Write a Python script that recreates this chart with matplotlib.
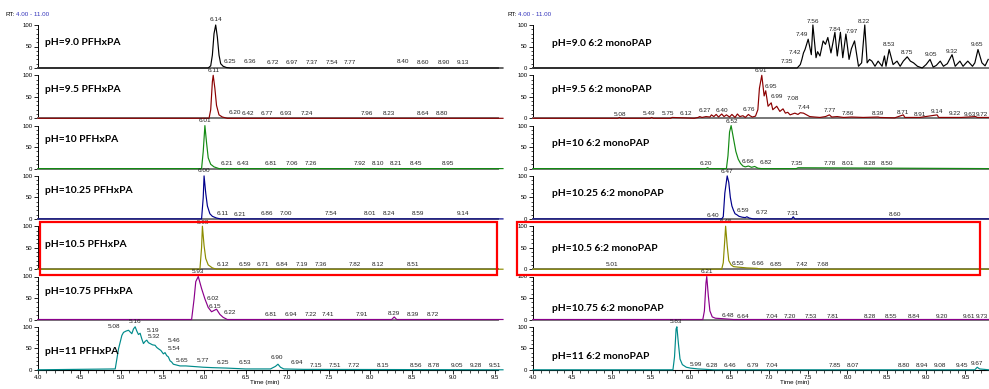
import matplotlib
matplotlib.use("Agg")
import matplotlib.pyplot as plt
from matplotlib.patches import Rectangle
from matplotlib.ticker import MultipleLocator, FormatStrFormatter

W, H = 989, 389

# ---- data (time in min, relative abundance %) ----
colors = ['#000000', '#8b0000', '#138a13', '#00008b', '#8c8c00', '#8b008b', '#008b8b']

left_names = ['pH=9.0 PFHxPA', 'pH=9.5 PFHxPA', 'pH=10 PFHxPA', 'pH=10.25 PFHxPA',
              'pH=10.5 PFHxPA', 'pH=10.75 PFHxPA', 'pH=11 PFHxPA']
right_names = ['pH=9.0 6:2 monoPAP', 'pH=9.5 6:2 monoPAP', 'pH=10 6:2 monoPAP',
               'pH=10.25 6:2 monoPAP', 'pH=10.5 6:2 monoPAP', 'pH=10.75 6:2 monoPAP',
               'pH=11 6:2 monoPAP']

L1_t = [4.0, 6.05, 6.08, 6.10, 6.12, 6.14, 6.16, 6.18, 6.20, 6.23, 6.27, 6.32, 9.6]
L1_y = [0, 0, 5, 30, 80, 100, 72, 30, 10, 4, 1, 0, 0]
L2_t = [4.0, 6.06, 6.08, 6.10, 6.11, 6.13, 6.15, 6.18, 6.22, 6.28, 9.6]
L2_y = [0, 0, 20, 85, 100, 70, 30, 8, 3, 0, 0]
L3_t = [4.0, 5.97, 5.99, 6.01, 6.03, 6.05, 6.08, 6.12, 6.18, 9.6]
L3_y = [0, 0, 40, 100, 60, 25, 10, 4, 0, 0]
L4_t = [4.0, 5.97, 5.99, 6.00, 6.02, 6.04, 6.07, 6.10, 6.15, 6.20, 9.6]
L4_y = [0, 0, 50, 100, 60, 30, 12, 6, 2, 0, 0]
L5_t = [4.0, 5.95, 5.97, 5.98, 6.00, 6.02, 6.05, 6.10, 6.15, 9.6]
L5_y = [0, 0, 50, 100, 55, 25, 10, 3, 0, 0]
L6_t = [4.0, 5.85, 5.88, 5.90, 5.93, 5.97, 6.01, 6.05, 6.09, 6.13, 6.15, 6.19, 6.23, 6.28,
        8.26, 8.29, 8.32, 9.6]
L6_y = [0, 0, 48, 88, 100, 72, 48, 28, 18, 22, 24, 12, 5, 0, 0, 6, 0, 0]
L7_t = [4.0, 4.93, 4.97, 5.01, 5.03, 5.06, 5.09, 5.11, 5.13, 5.15, 5.17, 5.19, 5.21, 5.23,
        5.25, 5.27, 5.29, 5.31, 5.33, 5.35, 5.38, 5.41, 5.43, 5.45, 5.48, 5.51, 5.53, 5.55,
        5.57, 5.59, 5.61, 5.63, 5.67, 5.71, 5.78, 5.85, 5.92, 5.99, 6.1, 6.27, 6.5, 6.8,
        6.86, 6.89, 6.92, 6.96, 7.2, 9.6]
L7_y = [0, 2, 49, 80, 87, 90, 92, 88, 84, 95, 100, 90, 82, 85, 72, 61, 66, 69, 63, 61, 58,
        57, 52, 49, 45, 37, 40, 33, 30, 21, 18, 13, 11, 9, 9, 8, 7, 6, 5, 4, 2, 2, 8, 13, 6,
        2, 1, 0]

R1_t = [4.0, 7.36, 7.40, 7.42, 7.44, 7.46, 7.50, 7.54, 7.56, 7.60, 7.62, 7.65, 7.69, 7.72,
        7.75, 7.79, 7.84, 7.87, 7.91, 7.94, 7.98, 8.02, 8.05, 8.09, 8.14, 8.18, 8.22, 8.25,
        8.28, 8.31, 8.35, 8.39, 8.44, 8.47, 8.49, 8.53, 8.58, 8.63, 8.67, 8.71, 8.76, 8.80,
        8.84, 8.89, 8.95, 9.00, 9.05, 9.09, 9.13, 9.18, 9.22, 9.27, 9.33, 9.37, 9.43, 9.47,
        9.53, 9.59, 9.62, 9.66, 9.71, 9.75, 9.79]
R1_y = [0, 0, 8, 20, 35, 43, 67, 31, 100, 24, 38, 28, 63, 55, 71, 35, 83, 28, 83, 24, 79,
        20, 45, 63, 4, 12, 100, 12, 20, 16, 4, 16, 4, 28, 4, 43, 8, 16, 4, 16, 26, 16, 12, 4,
        0, 8, 20, 2, 6, 16, 4, 10, 31, 4, 16, 4, 16, 4, 12, 43, 12, 5, 20]
R2_t = [4.0, 5.08, 5.10, 5.12, 5.49, 5.51, 5.53, 5.75, 5.77, 6.05, 6.10, 6.12, 6.15, 6.20,
        6.25, 6.27, 6.30, 6.33, 6.36, 6.40, 6.43, 6.46, 6.50, 6.53, 6.57, 6.60, 6.63, 6.67,
        6.70, 6.74, 6.76, 6.79, 6.83, 6.86, 6.88, 6.91, 6.94, 6.96, 6.99, 7.03, 7.05, 7.10,
        7.14, 7.18, 7.21, 7.24, 7.27, 7.30, 7.33, 7.37, 7.40, 7.44, 7.46, 7.52, 7.58, 7.65,
        7.72, 7.77, 7.80, 7.87, 7.95, 8.05, 8.2, 8.39, 8.41, 8.6, 8.71, 8.73, 8.92, 9.14,
        9.16, 9.3, 9.45, 9.63, 9.65, 9.8]
R2_y = [0, 0, 2, 0, 0, 2, 0, 0, 2, 0, 2, 4, 2, 4, 3, 8, 4, 9, 3, 10, 4, 8, 3, 9, 2, 10, 4,
        6, 2, 9, 6, 3, 5, 20, 70, 100, 52, 64, 28, 36, 20, 28, 16, 22, 12, 14, 8, 10, 12, 9,
        13, 12, 10, 4, 3, 2, 4, 8, 3, 4, 2, 3, 2, 3, 2, 1, 8, 2, 2, 8, 2, 2, 2, 4, 2, 2]
R3_t = [4.0, 6.20, 6.22, 6.24, 6.46, 6.48, 6.50, 6.52, 6.55, 6.58, 6.61, 6.64, 6.67, 6.70,
        6.74, 6.78, 6.82, 6.86, 6.90, 7.35, 7.37, 9.8]
R3_y = [0, 0, 2, 0, 0, 30, 85, 100, 70, 40, 22, 12, 6, 4, 6, 3, 5, 1, 0, 0, 2, 0]
R4_t = [4.0, 6.40, 6.42, 6.44, 6.47, 6.49, 6.51, 6.53, 6.55, 6.57, 6.59, 6.62, 6.66, 6.70,
        6.72, 6.75, 6.80, 7.29, 7.31, 7.33, 9.8]
R4_y = [0, 0, 5, 60, 100, 85, 50, 30, 20, 12, 10, 6, 4, 3, 5, 2, 0, 0, 5, 0, 0]
R5_t = [4.0, 6.40, 6.42, 6.44, 6.45, 6.47, 6.49, 6.52, 6.55, 6.60, 6.66, 6.72, 6.85, 6.90, 9.8]
R5_y = [0, 0, 15, 70, 100, 55, 20, 10, 6, 5, 4, 3, 2, 0, 0]
R6_t = [4.0, 6.16, 6.18, 6.20, 6.21, 6.23, 6.25, 6.28, 6.32, 6.40, 6.48, 6.55, 9.8]
R6_y = [0, 0, 20, 85, 100, 55, 20, 6, 3, 2, 1, 0, 0]
R7_t = [4.0, 5.78, 5.80, 5.82, 5.83, 5.85, 5.87, 5.90, 5.95, 6.00, 6.10, 6.30, 9.62, 9.65,
        9.68, 9.8]
R7_y = [0, 0, 30, 95, 100, 60, 25, 12, 6, 4, 2, 0, 0, 6, 2, 0]

left_traces = [(L1_t, L1_y), (L2_t, L2_y), (L3_t, L3_y), (L4_t, L4_y),
               (L5_t, L5_y), (L6_t, L6_y), (L7_t, L7_y)]
right_traces = [(R1_t, R1_y), (R2_t, R2_y), (R3_t, R3_y), (R4_t, R4_y),
                (R5_t, R5_y), (R6_t, R6_y), (R7_t, R7_y)]

# peak labels: (text, x placement, y placement)
left_peaks = [
    [('6.14', 6.14, 112), ('6.25', 6.31, 14), ('6.36', 6.55, 14), ('6.72', 6.83, 12),
     ('6.97', 7.06, 12), ('7.37', 7.30, 12), ('7.54', 7.54, 12), ('7.77', 7.76, 12),
     ('8.40', 8.40, 14), ('8.60', 8.64, 12), ('8.90', 8.89, 12), ('9.13', 9.12, 12)],
    [('6.11', 6.11, 112), ('6.20', 6.37, 14), ('6.42', 6.53, 12), ('6.77', 6.76, 12),
     ('6.93', 6.99, 12), ('7.24', 7.24, 12), ('7.96', 7.96, 12), ('8.23', 8.22, 12),
     ('8.64', 8.64, 12), ('8.80', 8.87, 12)],
    [('6.01', 6.01, 112), ('6.21', 6.27, 12), ('6.43', 6.47, 12), ('6.81', 6.81, 12),
     ('7.06', 7.06, 12), ('7.26', 7.29, 12), ('7.92', 7.87, 12), ('8.10', 8.10, 12),
     ('8.21', 8.31, 12), ('8.45', 8.55, 12), ('8.95', 8.94, 12)],
    [('6.00', 6.00, 112), ('6.11', 6.22, 12), ('6.21', 6.43, 10), ('6.86', 6.76, 12),
     ('7.00', 6.99, 12), ('7.54', 7.53, 12), ('8.01', 8.00, 12), ('8.24', 8.23, 12),
     ('8.59', 8.58, 12), ('9.14', 9.12, 12)],
    [('5.98', 5.98, 108), ('6.12', 6.23, 12), ('6.59', 6.49, 12), ('6.71', 6.71, 12),
     ('6.84', 6.94, 12), ('7.19', 7.18, 12), ('7.36', 7.41, 12), ('7.82', 7.82, 12),
     ('8.12', 8.10, 12), ('8.51', 8.52, 12)],
    [('5.93', 5.93, 112), ('6.02', 6.11, 50), ('6.15', 6.13, 31), ('6.22', 6.31, 17),
     ('6.81', 6.81, 12), ('6.94', 7.05, 12), ('7.22', 7.29, 12), ('7.41', 7.49, 12),
     ('7.91', 7.90, 12), ('8.29', 8.28, 14), ('8.39', 8.52, 12), ('8.72', 8.75, 12)],
    [('5.08', 4.92, 100), ('5.16', 5.17, 112), ('5.19', 5.38, 92), ('5.32', 5.40, 78),
     ('5.46', 5.64, 68), ('5.54', 5.64, 50), ('5.65', 5.74, 22), ('5.77', 5.98, 22),
     ('6.25', 6.23, 16), ('6.53', 6.49, 16), ('6.90', 6.88, 28), ('6.94', 7.12, 16),
     ('7.15', 7.35, 11), ('7.51', 7.58, 11), ('7.72', 7.80, 11), ('8.15', 8.16, 11),
     ('8.56', 8.55, 11), ('8.78', 8.77, 11), ('9.05', 9.05, 11), ('9.28', 9.27, 11),
     ('9.51', 9.50, 11)],
]
right_peaks = [
    [('7.35', 7.23, 14), ('7.42', 7.33, 35), ('7.49', 7.42, 78), ('7.56', 7.56, 108),
     ('7.84', 7.84, 90), ('7.97', 8.06, 85), ('8.22', 8.21, 108), ('8.53', 8.53, 55),
     ('8.75', 8.76, 36), ('9.05', 9.06, 31), ('9.32', 9.33, 39), ('9.65', 9.65, 55)],
    [('5.08', 5.11, 10), ('5.49', 5.48, 12), ('5.75', 5.72, 12), ('6.12', 5.95, 12),
     ('6.27', 6.18, 19), ('6.40', 6.40, 19), ('6.76', 6.74, 21), ('6.91', 6.90, 110),
     ('6.95', 7.03, 74), ('6.99', 7.10, 50), ('7.08', 7.31, 47), ('7.44', 7.44, 26),
     ('7.77', 7.77, 17), ('7.86', 8.00, 12), ('8.39', 8.39, 12), ('8.71', 8.71, 14),
     ('8.91', 8.92, 10), ('9.14', 9.14, 16), ('9.22', 9.37, 12), ('9.63', 9.56, 10),
     ('9.72', 9.71, 10)],
    [('6.20', 6.20, 12), ('6.52', 6.53, 110), ('6.66', 6.74, 16), ('6.82', 6.96, 14),
     ('7.35', 7.35, 12), ('7.78', 7.78, 12), ('8.01', 8.01, 12), ('8.28', 8.28, 12),
     ('8.50', 8.50, 12)],
    [('6.40', 6.29, 8), ('6.47', 6.47, 110), ('6.59', 6.67, 19), ('6.72', 6.91, 14),
     ('7.31', 7.31, 12), ('8.60', 8.61, 10)],
    [('6.45', 6.45, 110), ('5.01', 5.01, 12), ('6.55', 6.61, 14), ('6.66', 6.86, 14),
     ('6.85', 7.09, 10), ('7.42', 7.42, 10), ('7.68', 7.69, 10)],
    [('6.21', 6.21, 112), ('6.48', 6.48, 10), ('6.64', 6.67, 8), ('7.04', 7.04, 8),
     ('7.20', 7.27, 8), ('7.53', 7.53, 8), ('7.81', 7.82, 8), ('8.28', 8.28, 8),
     ('8.55', 8.55, 8), ('8.84', 8.85, 8), ('9.20', 9.20, 8), ('9.61', 9.55, 8),
     ('9.73', 9.71, 8)],
    [('5.83', 5.82, 112), ('5.99', 6.07, 12), ('6.28', 6.28, 10), ('6.46', 6.51, 10),
     ('6.79', 6.80, 10), ('7.04', 7.04, 10), ('7.85', 7.84, 10), ('8.07', 8.07, 10),
     ('8.80', 8.72, 10), ('8.94', 8.95, 10), ('9.08', 9.17, 10), ('9.45', 9.46, 10),
     ('9.67', 9.65, 14)],
]

left_name_y = [60, 67, 67, 67, 58, 65, 42]
right_name_y = [58, 67, 58, 58, 49, 25, 32]

# ---- layout ----
fig = plt.figure(figsize=(W / 100, H / 100), dpi=100)
sans = ['Liberation Sans', 'DejaVu Sans']
label_font = ['Lato', 'DejaVu Sans']


def fig_rect(x0, y0, x1, y1):
    return [x0 / W, 1 - y1 / H, (x1 - x0) / W, (y1 - y0) / H]


def draw_column(x0, x1, xmax, names, traces, peaks, name_x, name_y):
    for i in range(7):
        top = 25 + 50.3 * i
        ax = fig.add_axes(fig_rect(x0, top, x1, top + 43))
        t, y = traces[i]
        ax.plot(t, y, color=colors[i], lw=0.85, zorder=3, clip_on=False)
        ax.set_xlim(4.0, xmax)
        ax.set_ylim(0, 100)
        ax.spines['top'].set_visible(False)
        ax.spines['right'].set_visible(False)
        ax.spines['left'].set_linewidth(0.7)
        ax.yaxis.set_major_locator(MultipleLocator(50))
        ax.yaxis.set_minor_locator(MultipleLocator(10))
        ax.tick_params(axis='y', which='major', direction='out', length=3, width=0.6,
                       labelsize=4.3, pad=1)
        ax.tick_params(axis='y', which='minor', direction='out', length=1.8, width=0.5)
        for lab in ax.get_yticklabels():
            lab.set_family(sans)
        ax.patch.set_alpha(0)
        if i < 6:
            ax.spines['bottom'].set_color('#777777')
            ax.spines['bottom'].set_linewidth(1.4)
            ax.set_xticks([])
        else:
            ax.spines['bottom'].set_linewidth(0.8)
            ax.xaxis.set_major_locator(MultipleLocator(0.5))
            ax.xaxis.set_minor_locator(MultipleLocator(0.1))
            ax.xaxis.set_major_formatter(FormatStrFormatter('%.1f'))
            ax.tick_params(axis='x', which='major', direction='out', length=3, width=0.6,
                           labelsize=4.3, pad=1)
            ax.tick_params(axis='x', which='minor', direction='out', length=1.8, width=0.5)
            for lab in ax.get_xticklabels():
                lab.set_family(sans)
        for txt, px, py in peaks[i]:
            ax.text(px, py, txt, fontsize=4.6, family=sans, color='#222222',
                    ha='center', va='center', clip_on=False, zorder=4)
        ax.text(name_x, name_y[i], names[i], fontsize=7.4, family=label_font,
                fontweight='bold', ha='left', va='center', zorder=5)


draw_column(38, 498, 9.54, left_names, left_traces, left_peaks, 4.08, left_name_y)
draw_column(533, 989, 9.80, right_names, right_traces, right_peaks, 4.24, right_name_y)

# header "RT: 4.00 - 11.00"
for x in (5, 507):
    fig.text(x / W, 1 - 14 / H, 'RT:', fontsize=4.5, family=sans, va='center')
    fig.text((x + 11) / W, 1 - 14 / H, '4.00 - 11.00', fontsize=4.5, family=sans,
             color='#3333bb', va='center')

fig.text(265 / W, 1 - 380 / H, 'Time (min)', fontsize=4.5, family=sans, ha='center', va='top')
fig.text(795 / W, 1 - 380 / H, 'Time (min)', fontsize=4.5, family=sans, ha='center', va='top')

# red highlight boxes around the pH 10.5 panels
for bx0, bx1 in ((40, 497), (517, 980)):
    fig.patches.append(Rectangle((bx0 / W, 1 - 275 / H), (bx1 - bx0) / W, 53 / H,
                                 transform=fig.transFigure, fill=False,
                                 edgecolor='#ff0000', lw=1.6, zorder=10))

fig.savefig('out.png', dpi=100)
